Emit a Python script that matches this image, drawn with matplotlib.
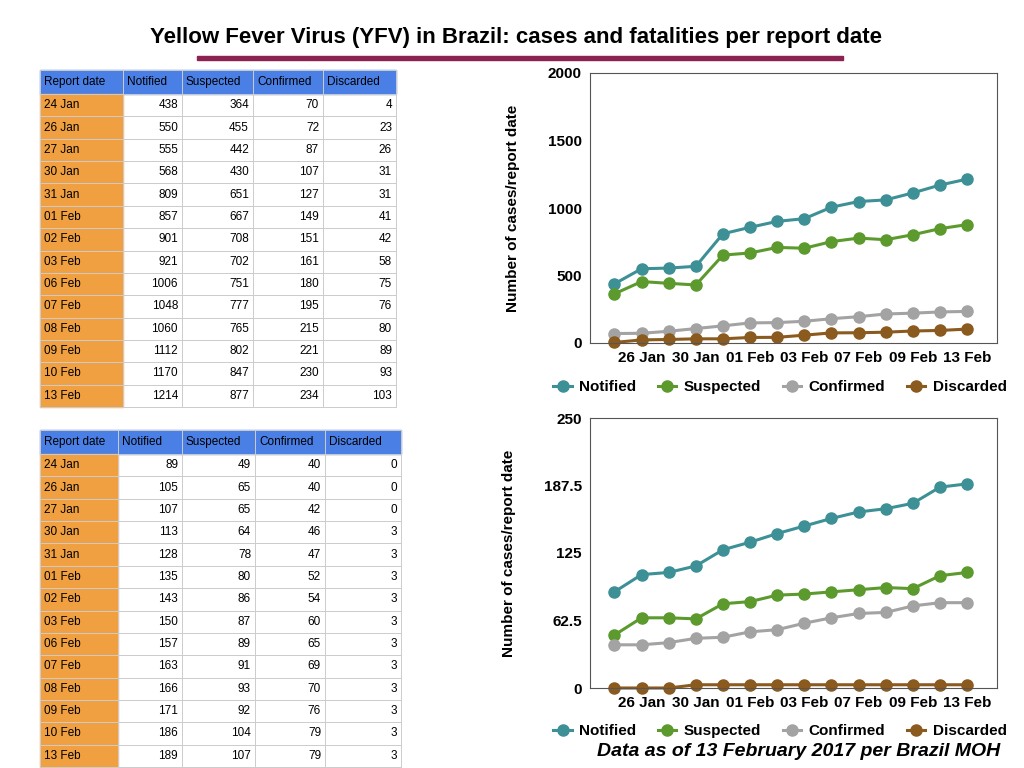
import matplotlib
matplotlib.use("Agg")
import matplotlib.pyplot as plt
from matplotlib.patches import Rectangle

dates = ["24 Jan","26 Jan","27 Jan","30 Jan","31 Jan","01 Feb","02 Feb","03 Feb","06 Feb","07 Feb","08 Feb","09 Feb","10 Feb","13 Feb"]
headers = ["Report date","Notified","Suspected","Confirmed","Discarded"]
cases_notified = [438,550,555,568,809,857,901,921,1006,1048,1060,1112,1170,1214]
cases_suspected = [364,455,442,430,651,667,708,702,751,777,765,802,847,877]
cases_confirmed = [70,72,87,107,127,149,151,161,180,195,215,221,230,234]
cases_discarded = [4,23,26,31,31,41,42,58,75,76,80,89,93,103]
fat_notified = [89,105,107,113,128,135,143,150,157,163,166,171,186,189]
fat_suspected = [49,65,65,64,78,80,86,87,89,91,93,92,104,107]
fat_confirmed = [40,40,42,46,47,52,54,60,65,69,70,76,79,79]
fat_discarded = [0,0,0,3,3,3,3,3,3,3,3,3,3,3]

W, H = 1024, 768
fig = plt.figure(figsize=(W/100, H/100), dpi=100)
plt.rcParams['font.family'] = ['Liberation Sans', 'DejaVu Sans']

def fx(x): return x/W
def fy(y): return 1-y/H

fig.text(fx(516), fy(37), "Yellow Fever Virus (YFV) in Brazil: cases and fatalities per report date",
         ha='center', va='center', fontsize=16, fontweight='bold')
fig.add_artist(Rectangle((fx(197), fy(60)), fx(843)-fx(197), 4/H, transform=fig.transFigure, color='#8b2252'))

def table(cols_x, top, series):
    hh, rh = 24, (337-24)/14
    bottom = top + hh + rh*14
    fig.add_artist(Rectangle((fx(cols_x[0]), fy(top+hh)), fx(cols_x[-1])-fx(cols_x[0]), hh/H,
                             transform=fig.transFigure, color='#4a7fe6', zorder=1))
    fig.add_artist(Rectangle((fx(cols_x[0]), fy(bottom)), fx(cols_x[1])-fx(cols_x[0]), rh*14/H,
                             transform=fig.transFigure, color='#f0a040', zorder=1))
    for j, h in enumerate(headers):
        fig.text(fx(cols_x[j]+4), fy(top+hh/2), h, fontsize=8.5, va='center', ha='left', zorder=3)
    for i in range(15):
        y = top + hh + rh*i
        fig.add_artist(plt.Line2D([fx(cols_x[0]), fx(cols_x[-1])], [fy(y), fy(y)],
                                  transform=fig.transFigure, color='#cccccc', lw=0.7, zorder=2))
    fig.add_artist(plt.Line2D([fx(cols_x[0]), fx(cols_x[-1])], [fy(top), fy(top)],
                              transform=fig.transFigure, color='#cccccc', lw=0.7, zorder=2))
    for x in cols_x:
        fig.add_artist(plt.Line2D([fx(x), fx(x)], [fy(top), fy(bottom)],
                                  transform=fig.transFigure, color='#cccccc', lw=0.7, zorder=2))
    for i, d in enumerate(dates):
        yc = top + hh + rh*(i+0.5)
        fig.text(fx(cols_x[0]+4), fy(yc), d, fontsize=8.5, va='center', ha='left', zorder=3)
        for j, s in enumerate(series):
            fig.text(fx(cols_x[j+2]-4), fy(yc), str(s[i]), fontsize=8.5, va='center', ha='right', zorder=3)

table([40,123,182,253,323,396], 70, [cases_notified, cases_suspected, cases_confirmed, cases_discarded])
table([40,118,182,255,325,401], 430, [fat_notified, fat_suspected, fat_confirmed, fat_discarded])

colors = ['#3d9096', '#5c9a2e', '#a3a3a3', '#8b5a1e']
names = ['Notified', 'Suspected', 'Confirmed', 'Discarded']

def chart(top, series, ymax, yticks, ylabels, legy):
    ax = fig.add_axes([fx(590), fy(top+270), 407/W, 270/H])
    x = list(range(len(dates)))
    for s, c, n in zip(series, colors, names):
        ax.plot(x, s, '-o', color=c, lw=2.2, ms=8, label=n, clip_on=False)
    ax.set_xlim(-0.9, 14.1)
    ax.set_ylim(0, ymax)
    ax.set_yticks(yticks)
    ax.set_yticklabels(ylabels, fontweight='bold', fontsize=11)
    ax.set_xticks(x[1::2])
    ax.set_xticklabels(dates[1::2], fontweight='bold', fontsize=11)
    ax.tick_params(length=0, pad=6)
    ax.set_ylabel("Number of cases/report date", fontweight='bold', fontsize=11, labelpad=20)
    for sp in ax.spines.values():
        sp.set_color('#555555'); sp.set_linewidth(0.8)
    fig.legend(*ax.get_legend_handles_labels(), loc='center', bbox_to_anchor=(fx(780), fy(legy)),
               ncol=4, frameon=False, fontsize=11, prop={'weight': 'bold', 'size': 11},
               handlelength=1.2, columnspacing=1.4, handletextpad=0.5)

chart(73, [cases_notified, cases_suspected, cases_confirmed, cases_discarded], 2000,
      [0,500,1000,1500,2000], ['0','500','1000','1500','2000'], 387)
chart(418, [fat_notified, fat_suspected, fat_confirmed, fat_discarded], 250,
      [0,62.5,125,187.5,250], ['0','62.5','125','187.5','250'], 731)

fig.text(fx(1000), fy(752), "Data as of 13 February 2017 per Brazil MOH", ha='right', va='center',
         fontsize=14, fontweight='bold', fontstyle='italic')

fig.savefig("out.png", dpi=100)
